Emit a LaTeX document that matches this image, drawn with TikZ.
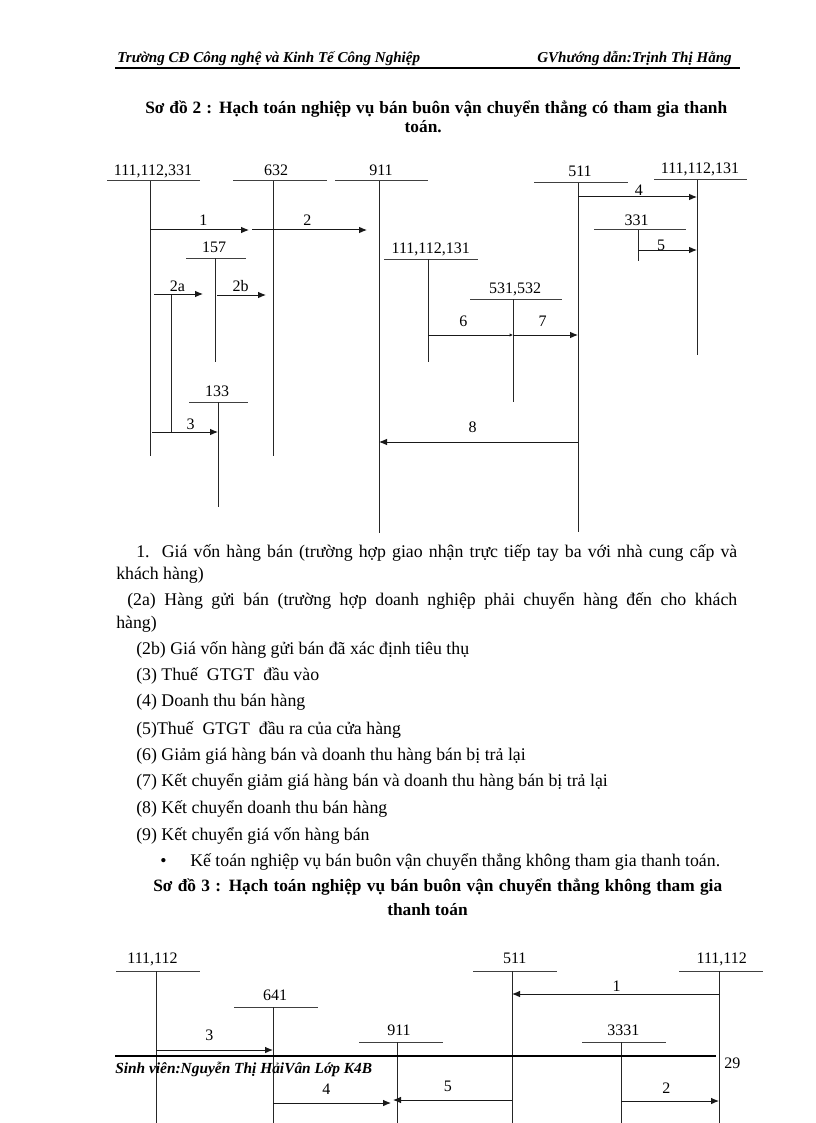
\documentclass[tikz,border=0pt]{standalone}
\usepackage{fontspec}
\setmainfont{Liberation Serif}
\usetikzlibrary{arrows.meta}
\newcommand{\Tacc}[9]{%
  \node[acctlabel] (#1) at (#3,#4) {#2};
  \draw[hline] (#5,#7) -- (#6,#7);
  \draw[vline] (#8,#7) coordinate (#1-t) -- (#8,#9) coordinate (#1-b);
}
\tikzset{
  acctlabel/.style={anchor=base, inner sep=0pt, font=\fontsize{12}{14}\selectfont},
  hline/.style={line width=0.75pt, black!75},
  vline/.style={line width=0.75pt, black!85},
  flow/.style={line width=0.75pt, black!90, -{Latex[length=6pt,width=5pt]}},
  flowsmall/.style={line width=0.75pt, black!90, -{Latex[length=2.5pt,width=2.5pt]}},
  num/.style={inner sep=0pt, font=\fontsize{12}{14}\selectfont},
  body/.style={anchor=base west, inner sep=0pt, font=\fontsize{13.35}{15}\selectfont},
  ttl/.style={anchor=base west, inner sep=0pt, font=\fontsize{13}{15}\selectfont\bfseries},
  hdr/.style={inner sep=0pt, font=\fontsize{11.3}{13}\selectfont\bfseries\itshape},
}
\begin{document}
\begin{tikzpicture}[x=0.75pt,y=-0.75pt]
\useasboundingbox (0,0) rectangle (816,1123);
\fill[white] (0,0) rectangle (816,1123);

% page header
\node[hdr, anchor=base west] (hL) at (117,63) {Trường CĐ Công nghệ và Kinh Tế Công Nghiệp};
\node[hdr, anchor=base east] (hR) at (732,63) {GVhướng dẫn:Trịnh Thị Hằng};
\draw[line width=1pt] (115,68) -- (740,68);

% title 2
\node[ttl] (t2a) at (145,114) {\makebox[436.5pt][s]{Sơ đồ 2 : Hạch toán nghiệp vụ bán buôn vận chuyển thẳng có tham gia thanh}};
\node[ttl, anchor=base east] (t2b) at (442,132.5) {toán.};

% diagram 1 accounts
\Tacc{A}{111,112,331}{153}{175.5}{107}{200}{181}{150}{456}
\Tacc{B}{632}{276}{175.5}{233}{327}{181}{273}{456}
\Tacc{C}{911}{381}{175.5}{335}{428}{181}{379}{533}
\Tacc{D}{511}{580}{176.5}{534}{628}{183}{578}{532}
\Tacc{E}{111,112,131}{700}{174}{654}{747}{180}{697}{355}
\Tacc{F}{157}{214}{252.3}{186}{246}{258}{215}{362}
\Tacc{G}{133}{217}{396}{189}{248}{402}{218}{507}
\Tacc{H}{111,112,131}{430.7}{253}{384}{478}{259}{428}{362}
\Tacc{I}{531,532}{515}{293}{470}{562}{299}{513}{402}
\Tacc{J}{331}{636.7}{225}{594}{686}{230}{638}{261}

% connection points
\coordinate (p1s) at (150,230); \coordinate (p1e) at (249,230);
\coordinate (p2s) at (252,230); \coordinate (p2e) at (367,230);
\coordinate (p2as) at (154,294); \coordinate (p2ae) at (203,294);
\coordinate (p2bs) at (217,295); \coordinate (p2be) at (266,295);
\coordinate (v2a) at (171,294); \coordinate (v3) at (171,432);
\coordinate (p3s) at (152,432); \coordinate (p3e) at (218,432);
\coordinate (p4s) at (578,197); \coordinate (p4e) at (697,197);
\coordinate (p5s) at (638,250); \coordinate (p5e) at (697,250);
\coordinate (p6s) at (428,335); \coordinate (p6e) at (513,335);
\coordinate (p7e) at (578,335);
\coordinate (p8s) at (578,442); \coordinate (p8e) at (379,442);

\draw[vline] (v2a) -- (v3);
\draw[flow] (p1s) -- (p1e);
\draw[flow] (p2s) -- (p2e);
\draw[flow] (p2as) -- (p2ae);
\draw[flow] (p2bs) -- (p2be);
\draw[flow] (p3s) -- (p3e);
\draw[flow] (p4s) -- (p4e);
\draw[flow] (p5s) -- (p5e);
\draw[flowsmall] (p6s) -- (p6e);
\draw[flow] (p6e) -- (p7e);
\draw[flow] (p8s) -- (p8e);

\node[num] (l1) at (203.3,220) {1};
\node[num] (l2) at (307.3,220) {2};
\node[num] (l2a) at (177.5,286) {2a};
\node[num] (l2b) at (240.5,286) {2b};
\node[num] (l3) at (190.7,424) {3};
\node[num] (l4) at (638.8,190) {4};
\node[num] (l5) at (661,245) {5};
\node[num] (l6) at (463.3,321) {6};
\node[num] (l7) at (542.6,321) {7};
\node[num] (l8) at (472.6,427.7) {8};

% explanation text
\node[body] (e1) at (136,557.5) {\makebox[450.75pt][s]{1.\ \ Giá vốn hàng bán (trường hợp giao nhận trực tiếp tay ba với nhà cung cấp và}};
\node[body] (e1b) at (116,579.5) {khách hàng)};
\node[body] (e2) at (127,605.7) {\makebox[457.5pt][s]{(2a) Hàng gửi bán (trường hợp doanh nghiệp phải chuyển hàng đến cho khách}};
\node[body] (e2b) at (116,628.3) {hàng)};
\node[body] (e3) at (136,654.3) {(2b) Giá vốn hàng gửi bán đã xác định tiêu thụ};
\node[body] (e4) at (136,680) {(3) Thuế\ \ GTGT\ \ đầu vào};
\node[body] (e5) at (136,706.7) {(4) Doanh thu bán hàng};
\node[body] (e6) at (136,734) {(5)Thuế\ \ GTGT\ \ đầu ra của cửa hàng};
\node[body] (e7) at (136,760) {(6) Giảm giá hàng bán và doanh thu hàng bán bị trả lại};
\node[body] (e8) at (136,786.7) {(7) Kết chuyển giảm giá hàng bán và doanh thu hàng bán bị trả lại};
\node[body] (e9) at (136,813.3) {(8) Kết chuyển doanh thu bán hàng};
\node[body] (e10) at (136,840) {(9) Kết chuyển giá vốn hàng bán};
\node[body] (bul) at (160,866) {\textbullet};
\node[body] (e11) at (190,866) {Kế toán nghiệp vụ bán buôn vận chuyển thẳng không tham gia thanh toán.};

% title 3
\node[ttl] (t3a) at (153,891.7) {\makebox[426.75pt][s]{Sơ đồ 3 : Hạch toán nghiệp vụ bán buôn vận chuyển thẳng không tham gia}};
\node[ttl] (t3b) at (387,915) {thanh toán};

% diagram 2 accounts
\Tacc{K}{111,112}{152.5}{963}{116}{200}{971}{156}{1123}
\Tacc{L}{641}{275}{1000}{234}{318}{1007}{273}{1123}
\Tacc{M}{911}{399}{1035}{359}{443}{1042}{397}{1123}
\Tacc{N}{511}{514.7}{963}{473}{557}{971}{512}{1123}
\Tacc{O}{3331}{623.3}{1035}{582}{666}{1042}{621}{1123}
\Tacc{P}{111,112}{721.7}{963}{679}{763}{971}{719}{1123}

\coordinate (q1s) at (719,994); \coordinate (q1e) at (512,994);
\coordinate (q3s) at (156,1050); \coordinate (q3e) at (273,1050);
\coordinate (q4s) at (273,1103); \coordinate (q4e) at (391,1103);
\coordinate (q5s) at (512,1100); \coordinate (q5e) at (393,1100);
\coordinate (q2s) at (621,1101); \coordinate (q2e) at (719,1101);

\draw[flow] (q1s) -- (q1e);
\draw[flow] (q3s) -- (q3e);
\draw[flow] (q4s) -- (q4e);
\draw[flow] (q5s) -- (q5e);
\draw[flow] (q2s) -- (q2e);

\node[num] (m1) at (616.7,985.8) {1};
\node[num] (m3) at (209.3,1035.5) {3};
\node[num] (m4) at (326.3,1089) {4};
\node[num] (m5) at (447.8,1086.7) {5};
\node[num] (m2) at (666.3,1088.5) {2};

% page footer
\coordinate (fs) at (115,1056); \coordinate (fe) at (716,1056);
\draw[line width=1.5pt] (fs) -- (fe);
\node[hdr, anchor=base west, font=\fontsize{11.55}{13}\selectfont\bfseries\itshape] (foot) at (115,1073) {Sinh viên:Nguyễn Thị HảiVân Lớp K4B};
\node[num, anchor=base west] (pg) at (724,1068.7) {29};
\end{tikzpicture}
\end{document}
